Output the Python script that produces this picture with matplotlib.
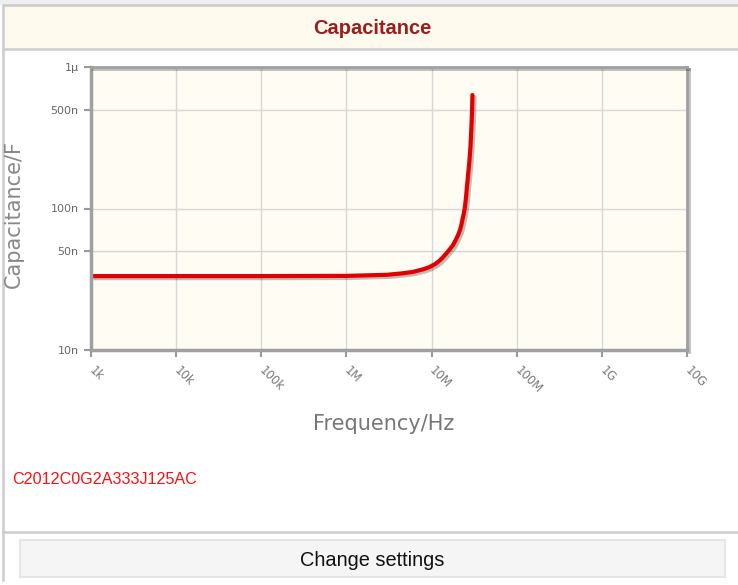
import matplotlib
matplotlib.use('Agg')
import matplotlib.pyplot as plt
import matplotlib.patheffects as pe
from matplotlib.patches import Rectangle
from matplotlib.lines import Line2D

# values
freq_hz = [1e3, 1e4, 1e5, 1e6, 3e6, 4.5e6, 6e6, 8e6, 9.5e6, 11e6, 12.3e6,
           13.5e6, 15.5e6, 17.8e6, 19.5e6, 20.5e6, 21.5e6, 22.3e6, 23e6,
           23.8e6, 24.6e6, 25.1e6, 25.6e6, 26.0e6, 26.5e6, 27.0e6, 27.6e6,
           28.1e6, 28.6e6, 29.0e6, 29.5e6, 29.9e6, 30.2e6]
cap_nf = [33.3, 33.3, 33.3, 33.4, 34.0, 34.8, 35.6, 37.2, 38.6, 40.5, 42.6,
          45.0, 49.5, 55.0, 61.0, 65.0, 70.0, 76.0, 83.0,
          91.0, 102.0, 113.0, 127.0, 142.0, 159.0, 180.0, 205.0,
          235.0, 272.0, 320.0, 400.0, 500.0, 634.0]

x_ticks = [1e3, 1e4, 1e5, 1e6, 1e7, 1e8, 1e9, 1e10]
x_labels = ['1k', '10k', '100k', '1M', '10M', '100M', '1G', '10G']
y_ticks = [1e-8, 5e-8, 1e-7, 5e-7, 1e-6]
y_labels = ['10n', '50n', '100n', '500n', '1\u03bc']

part_number = 'C2012C0G2A333J125AC'

W, H = 738, 585
fig = plt.figure(figsize=(W / 100, H / 100), dpi=100)
fig.patch.set_facecolor('white')


def px(x, y):
    return x / W, 1 - y / H


# page frame
fig.patches.append(Rectangle(px(0, 5), 1, 5 / H, transform=fig.transFigure,
                             facecolor='#efefef', edgecolor='none'))
fig.patches.append(Rectangle(px(3, 49), 740 / W, 44 / H, transform=fig.transFigure,
                             facecolor='#fffaee', edgecolor='#cccccc', lw=1.8))
fig.text(*px(372, 29), 'Capacitance', color='#9b1e1e', fontsize=14.5,
         fontweight='bold', ha='center', va='center', family='Liberation Sans')

fig.lines.append(Line2D([3 / W, 3 / W], [1 - 49 / H, 1 - 580 / H],
                        transform=fig.transFigure, color='#cccccc', lw=1.8))
fig.lines.append(Line2D([3 / W, 1], [1 - 532 / H, 1 - 532 / H],
                        transform=fig.transFigure, color='#cccccc', lw=1.8))

# button
fig.patches.append(Rectangle(px(20, 577), 705 / W, 37 / H, transform=fig.transFigure,
                             facecolor='#f5f5f5', edgecolor='#e6e6e6', lw=1.5))
fig.text(*px(372, 560), 'Change settings', color='#111111', fontsize=14.4,
         ha='center', va='center', family='Liberation Sans')

fig.text(*px(12, 480), part_number, color='#ff1010', fontsize=11.6,
         ha='left', va='center', family='Liberation Sans')

ax = fig.add_axes([91 / W, 1 - 350 / H, 596 / W, 283 / H])
ax.set_facecolor('#fffcf4')
ax.set_xscale('log')
ax.set_yscale('log')
ax.set_xlim(1e3, 1e10)
ax.set_ylim(1e-8, 1e-6)

cap_f = [c * 1e-9 for c in cap_nf]
ax.plot(freq_hz, cap_f, color='#e00000', lw=3, solid_capstyle='round',
        path_effects=[pe.SimpleLineShadow(offset=(1.5, -1.5), alpha=0.25),
                      pe.Normal()])

ax.set_xticks(x_ticks)
ax.set_xticklabels(x_labels, rotation=-45, ha='left', va='center',
                   rotation_mode='anchor', fontsize=8.5, color='#777777',
                   family='Liberation Sans Narrow')
ax.set_yticks(y_ticks)
ax.set_yticklabels(y_labels, fontsize=8, color='#666666')
ax.minorticks_off()
ax.tick_params(axis='x', length=5, width=1.5, color='#999999', pad=8)
ax.tick_params(axis='y', length=5, width=1.5, color='#999999', pad=4)
ax.grid(True, color='#d6d6d6', lw=1)

for side in ['left', 'bottom']:
    ax.spines[side].set_color('#a0a0a0')
    ax.spines[side].set_linewidth(2.5)
for side in ['top', 'right']:
    ax.spines[side].set_color('#a0a0a0')
    ax.spines[side].set_linewidth(2)
    ax.spines[side].set_path_effects([pe.SimpleLineShadow(offset=(1.5, -1.5), alpha=0.25),
                                      pe.Normal()])

fig.text(*px(384, 424), 'Frequency/Hz', color='#777777', fontsize=15,
         ha='center', va='center', family='Liberation Sans Narrow')
fig.text(*px(14, 214), 'Capacitance/F', color='#888888', fontsize=15,
         ha='center', va='center', rotation=90, family='Liberation Sans Narrow')

fig.savefig('out.png', dpi=100)
